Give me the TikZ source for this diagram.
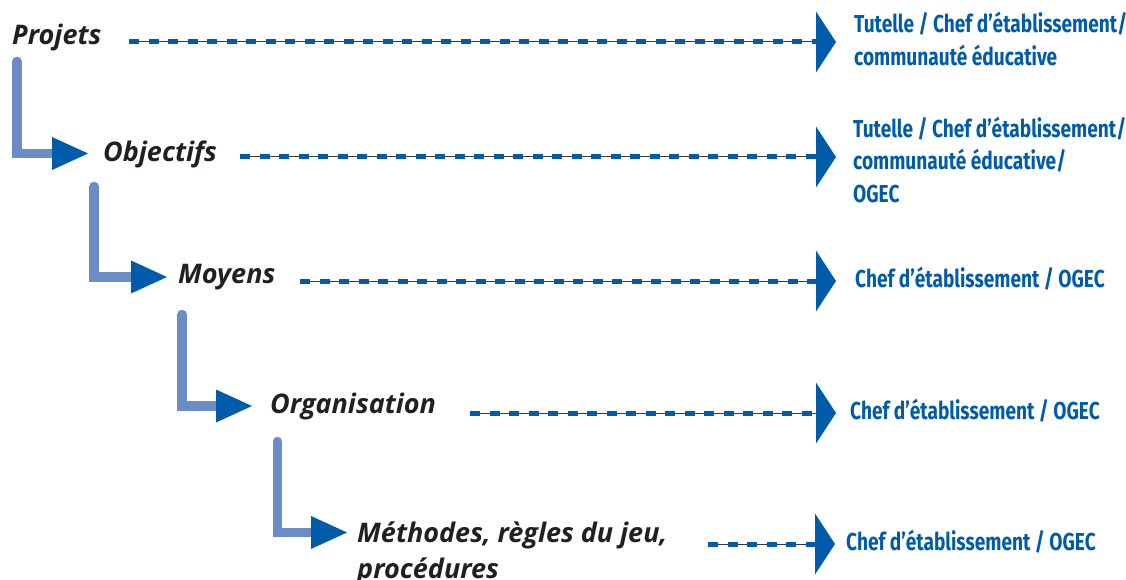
\documentclass[tikz,border=0pt]{standalone}
\usepackage{fontspec}
\newfontfamily\levelfont{Open Sans}
\newfontfamily\actorfont[FakeStretch=0.78]{Fira Sans}
\definecolor{deepblue}{HTML}{005BAA}
\definecolor{paleblue}{HTML}{6A8DC7}
\definecolor{inkblack}{HTML}{231F20}
\definecolor{threadgray}{HTML}{3A3A3A}
\tikzset{
  level/.style={inner sep=0pt, anchor=base west, text=inkblack,
    font=\levelfont\bfseries\itshape\fontsize{27}{36}\selectfont, align=left},
  actor/.style={inner sep=0pt, anchor=base west, text=deepblue,
    font=\actorfont\bfseries\fontsize{24.5}{32.5}\selectfont, align=left},
  thread/.style={draw=threadgray, line width=1pt},
  dashbar/.style={draw=deepblue, line width=5pt, dash pattern=on 10pt off 9.5pt},
  elbow/.style={draw=paleblue, line width=9.5pt, line cap=round, line join=miter},
  tipfill/.style={fill=deepblue},
}
\begin{document}
\begin{tikzpicture}[x=1pt,y=-1pt]
\useasboundingbox (0,0) rectangle (1126,580);

% levels of the hierarchy (multi-line nodes sit on their last baseline)
\node[level] (projets) at (12,45) {Projets};
\node[level] (objectifs) at (103,162) {Objectifs};
\node[level] (moyens) at (178,283) {Moyens};
\node[level] (organisation) at (270,413) {Organisation};
\node[level] (methodes) at (357,578) {Méthodes, règles du jeu,\\procédures};

% who is responsible
\node[actor] (r1) at (854,65.5) {Tutelle / Chef d’établissement/\\communauté éducative};
\node[actor] (r2) at (853,202) {Tutelle / Chef d’établissement/\\communauté éducative/\\OGEC};
\node[actor] (r3) at (855,287) {Chef d’établissement / OGEC};
\node[actor] (r4) at (850,419) {Chef d’établissement / OGEC};
\node[actor] (r5) at (846,550) {Chef d’établissement / OGEC};

% dashed leaders with their arrowheads
\foreach \n/\xs/\yy/\xe in {1/129/42/816, 2/240/157/816, 3/300/281/816, 4/470/413/816, 5/708/544/815}{
  \coordinate (ls\n) at (\xs,\yy);
  \coordinate (le\n) at (\xe,\yy);
  \draw[thread] (ls\n) -- (le\n);
  \draw[dashbar] (ls\n) -- (le\n);
  \fill[tipfill] (le\n) ++(0,-30.5) -- ++(20,30.5) -- ++(-20,30.5) -- cycle;
}

% elbow connectors between levels
\foreach \n/\xv/\ytop/\yh/\xb in {1/17/61.5/153.5/52, 2/94/186.5/277/131, 3/182/314.5/406/216, 4/277.5/441.5/532.5/311}{
  \coordinate (es\n) at (\xv,\ytop);
  \coordinate (eb\n) at (\xb,\yh);
  \draw[elbow] (es\n) |- (eb\n);
  \fill[tipfill] (eb\n) ++(0,-16.5) -- ++(36,16.5) -- ++(-36,16.5) -- cycle;
}
\end{tikzpicture}
\end{document}
